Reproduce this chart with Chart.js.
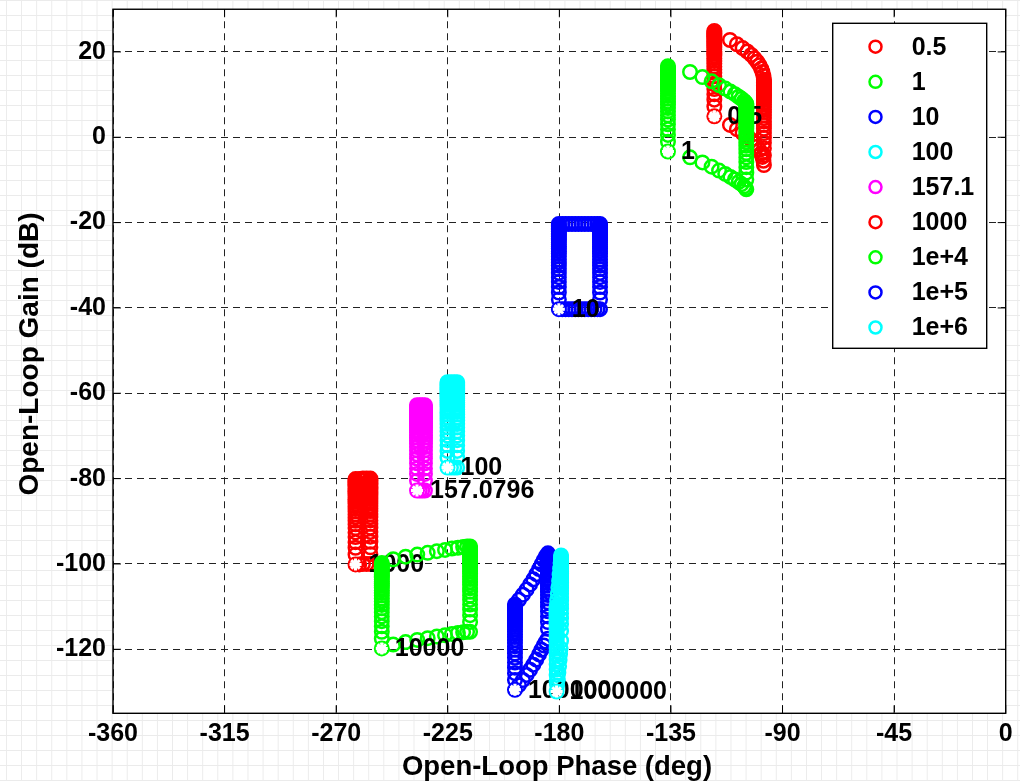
<!DOCTYPE html>
<html>
<head>
<meta charset="utf-8">
<script src="https://cdn.jsdelivr.net/npm/chart.js@4.4.1/dist/chart.umd.min.js"></script>
<style>
  html, body { margin: 0; padding: 0; }
  body {
    width: 1020px; height: 781px; overflow: hidden;
    background-color: #ffffff;
    background-image:
      linear-gradient(to right, #ebebeb 1px, transparent 1px),
      linear-gradient(to bottom, #ebebeb 1px, transparent 1px);
    background-size: 15.1px 15px;
    background-position: 6px 0;
  }
  #c { display: block; }
</style>
</head>
<body>
<canvas id="c" width="1020" height="781"></canvas>
<script>
// Axis ticks
const phaseTicks = [-360, -315, -270, -225, -180, -135, -90, -45, 0];
const gainTicks = [-120, -100, -80, -60, -40, -20, 0, 20];

// Template frequencies (legend text and the label printed at each nominal point)
const freqLegend = ['0.5', '1', '10', '100', '157.1', '1000', '1e+4', '1e+5', '1e+6'];
const freqText = ['0.5', '1', '10', '100', '157.0796', '1000', '10000', '100000', '1000000'];
const seriesColor = ['#ff0000', '#00ff00', '#0000ff', '#00ffff', '#ff00ff', '#ff0000', '#00ff00', '#0000ff', '#00ffff'];

// Nominal plant response at each frequency (deg, dB)
const nominalPhase = [-117.5, -136.2, -180.2, -225.1, -237.4, -262.2, -251.6, -197.9, -181.1];
const nominalGain = [4.9, -3.35, -40.3, -77.4, -82.8, -100.1, -119.8, -129.5, -129.9];

// Template boundaries: [phase, gains] for the two gain sweeps, [phase, gain] pairs for the pole sweeps
const w05Left = [-117.5, [4.9, 7.2, 8.8, 10.1, 11.3, 12.4, 13.4, 14.3, 15.1, 15.9, 16.6, 17.3, 17.9, 18.5, 19.1, 19.6, 20.1, 20.6, 21.1, 21.5, 21.9, 22.3, 22.7, 23.1, 23.5, 23.8, 24.2, 24.5, 24.9]];
const w05Top = [[-111.2, 22.8], [-108.4, 21.8], [-106.1, 20.9], [-104.2, 20.1], [-102.6, 19.3], [-101.3, 18.5], [-100.2, 17.7], [-99.3, 16.9], [-98.6, 16.1], [-98.1, 15.3], [-97.7, 14.4]];
const w05Right = [-97.5, [-6.5, -4.2, -2.6, -1.3, -0.1, 1.0, 2.0, 2.9, 3.7, 4.5, 5.2, 5.9, 6.5, 7.1, 7.7, 8.2, 8.7, 9.2, 9.7, 10.1, 10.5, 10.9, 11.3, 11.7, 12.1, 12.4, 12.8, 13.1, 13.5]];
const w05Bottom = [[-111.2, 2.9], [-108.4, 1.9], [-106.1, 1.0], [-104.2, 0.2], [-102.6, -0.6], [-101.3, -1.4], [-100.2, -2.2], [-99.3, -3.0], [-98.6, -3.8], [-98.1, -4.6], [-97.7, -5.5]];

const w1Left = [-136.2, [-3.35, -1.05, 0.55, 1.85, 3.05, 4.15, 5.15, 6.05, 6.85, 7.65, 8.35, 9.05, 9.65, 10.25, 10.85, 11.35, 11.85, 12.35, 12.85, 13.25, 13.65, 14.05, 14.45, 14.85, 15.25, 15.55, 15.95, 16.25, 16.65]];
const w1Top = [[-127.3, 15.3], [-122.3, 14.1], [-118.6, 13.1], [-115.6, 12.2], [-113.1, 11.4], [-111.0, 10.7], [-109.2, 10.1], [-107.7, 9.5], [-106.5, 9.0], [-105.5, 8.5], [-104.9, 8.1]];
const w1Right = [-104.6, [-12.2, -9.9, -8.3, -7.0, -5.8, -4.7, -3.7, -2.8, -2.0, -1.2, -0.5, 0.2, 0.8, 1.4, 2.0, 2.5, 3.0, 3.5, 4.0, 4.4, 4.8, 5.2, 5.6, 6.0, 6.4, 6.7, 7.1, 7.4, 7.8]];
const w1Bottom = [[-127.3, -4.7], [-122.3, -5.9], [-118.6, -6.9], [-115.6, -7.8], [-113.1, -8.6], [-111.0, -9.3], [-109.2, -9.9], [-107.7, -10.5], [-106.5, -11.0], [-105.5, -11.5], [-104.9, -11.9]];

const w10Left = [-180.2, [-40.3, -38.0, -36.4, -35.1, -33.9, -32.8, -31.8, -30.9, -30.1, -29.3, -28.6, -27.9, -27.3, -26.7, -26.1, -25.6, -25.1, -24.6, -24.1, -23.7, -23.3, -22.9, -22.5, -22.1, -21.7, -21.4, -21.0, -20.7, -20.3]];
const w10Top = [[-178.8, -20.3], [-177.5, -20.3], [-176.2, -20.3], [-174.9, -20.3], [-173.6, -20.3], [-172.3, -20.3], [-171.0, -20.3], [-169.7, -20.3], [-168.4, -20.3], [-167.1, -20.3], [-165.8, -20.3], [-164.6, -20.3]];
const w10Right = [-163.6, [-40.3, -38.0, -36.4, -35.1, -33.9, -32.8, -31.8, -30.9, -30.1, -29.3, -28.6, -27.9, -27.3, -26.7, -26.1, -25.6, -25.1, -24.6, -24.1, -23.7, -23.3, -22.9, -22.5, -22.1, -21.7, -21.4, -21.0, -20.7, -20.3]];
const w10Bottom = [[-178.8, -40.3], [-177.5, -40.3], [-176.2, -40.3], [-174.9, -40.3], [-173.6, -40.3], [-172.3, -40.3], [-171.0, -40.3], [-169.7, -40.3], [-168.4, -40.3], [-167.1, -40.3], [-165.8, -40.3], [-164.6, -40.3]];

const w100Left = [-225.1, [-77.4, -75.1, -73.5, -72.2, -71.0, -69.9, -68.9, -68.0, -67.2, -66.4, -65.7, -65.0, -64.4, -63.8, -63.2, -62.7, -62.2, -61.7, -61.2, -60.8, -60.4, -60.0, -59.6, -59.2, -58.8, -58.5, -58.1, -57.8, -57.4]];
const w100Top = [[-223.7, -57.4], [-222.4, -57.4]];
const w100Right = [-221.2, [-77.4, -75.1, -73.5, -72.2, -71.0, -69.9, -68.9, -68.0, -67.2, -66.4, -65.7, -65.0, -64.4, -63.8, -63.2, -62.7, -62.2, -61.7, -61.2, -60.8, -60.4, -60.0, -59.6, -59.2, -58.8, -58.5, -58.1, -57.8, -57.4]];
const w100Bottom = [[-223.7, -77.4], [-222.4, -77.4]];

const w157Left = [-237.4, [-82.8, -80.5, -78.9, -77.6, -76.4, -75.3, -74.3, -73.4, -72.6, -71.8, -71.1, -70.4, -69.8, -69.2, -68.6, -68.1, -67.6, -67.1, -66.6, -66.2, -65.8, -65.4, -65.0, -64.6, -64.2, -63.9, -63.5, -63.2, -62.8]];
const w157Top = [[-236.3, -62.8], [-235.3, -62.8]];
const w157Right = [-234.2, [-82.8, -80.5, -78.9, -77.6, -76.4, -75.3, -74.3, -73.4, -72.6, -71.8, -71.1, -70.4, -69.8, -69.2, -68.6, -68.1, -67.6, -67.1, -66.6, -66.2, -65.8, -65.4, -65.0, -64.6, -64.2, -63.9, -63.5, -63.2, -62.8]];
const w157Bottom = [[-236.3, -82.8], [-235.3, -82.8]];

const w1000Left = [-262.2, [-100.1, -97.8, -96.2, -94.9, -93.7, -92.6, -91.6, -90.7, -89.9, -89.1, -88.4, -87.7, -87.1, -86.5, -85.9, -85.4, -84.9, -84.4, -83.9, -83.5, -83.1, -82.7, -82.3, -81.9, -81.5, -81.2, -80.8, -80.5, -80.1]];
const w1000Top = [[-260.7, -80.1], [-259.2, -80.0], [-257.7, -80.0]];
const w1000Right = [-256.2, [-100.0, -97.7, -96.1, -94.8, -93.6, -92.5, -91.5, -90.6, -89.8, -89.0, -88.3, -87.6, -87.0, -86.4, -85.8, -85.3, -84.8, -84.3, -83.8, -83.4, -83.0, -82.6, -82.2, -81.8, -81.4, -81.1, -80.7, -80.4, -80.0]];
const w1000Bottom = [[-260.7, -100.1], [-259.2, -100.0], [-257.7, -100.0]];

const w1e4Left = [-251.6, [-119.8, -117.5, -115.9, -114.6, -113.4, -112.3, -111.3, -110.4, -109.6, -108.8, -108.1, -107.4, -106.8, -106.2, -105.6, -105.1, -104.6, -104.1, -103.6, -103.2, -102.8, -102.4, -102.0, -101.6, -101.2, -100.9, -100.5, -100.2, -99.8]];
const w1e4Top = [[-247.0, -98.9], [-242.0, -98.3], [-237.3, -97.8], [-233.1, -97.4], [-229.4, -97.0], [-226.1, -96.7], [-223.3, -96.4], [-220.9, -96.2], [-218.8, -96.0], [-217.2, -95.9]];
const w1e4Right = [-216.0, [-115.9, -113.6, -112.0, -110.7, -109.5, -108.4, -107.4, -106.5, -105.7, -104.9, -104.2, -103.5, -102.9, -102.3, -101.7, -101.2, -100.7, -100.2, -99.7, -99.3, -98.9, -98.5, -98.1, -97.7, -97.3, -97.0, -96.6, -96.3, -95.9]];
const w1e4Bottom = [[-247.0, -118.9], [-242.0, -118.3], [-237.3, -117.8], [-233.1, -117.4], [-229.4, -117.0], [-226.1, -116.7], [-223.3, -116.4], [-220.9, -116.2], [-218.8, -116.0], [-217.2, -115.9]];

const w1e5Left = [-197.9, [-129.5, -127.2, -125.6, -124.3, -123.1, -122.0, -121.0, -120.1, -119.3, -118.5, -117.8, -117.1, -116.5, -115.9, -115.3, -114.8, -114.3, -113.8, -113.3, -112.9, -112.5, -112.1, -111.7, -111.3, -110.9, -110.6, -110.2, -109.9, -109.5]];
const w1e5Top = [[-196.3, -108.4], [-194.7, -107.2], [-193.2, -106.0], [-191.8, -104.8], [-190.5, -103.6], [-189.3, -102.4], [-188.2, -101.2], [-187.2, -100.1], [-186.3, -99.1], [-185.4, -98.2]];
const w1e5Right = [-184.6, [-117.5, -115.2, -113.6, -112.3, -111.1, -110.0, -109.0, -108.1, -107.3, -106.5, -105.8, -105.1, -104.5, -103.9, -103.3, -102.8, -102.3, -101.8, -101.3, -100.9, -100.5, -100.1, -99.7, -99.3, -98.9, -98.6, -98.2, -97.9, -97.5]];
const w1e5Bottom = [[-196.3, -128.4], [-194.7, -127.2], [-193.2, -126.0], [-191.8, -124.8], [-190.5, -123.6], [-189.3, -122.4], [-188.2, -121.2], [-187.2, -120.1], [-186.3, -119.1], [-185.4, -118.2]];

const w1e6Left = [-181.1, [-129.9, -127.6, -126.0, -124.7, -123.5, -122.4, -121.4, -120.5, -119.7, -118.9, -118.2, -117.5, -116.9, -116.3, -115.7, -115.2, -114.7, -114.2, -113.7, -113.3, -112.9, -112.5, -112.1, -111.7, -111.3, -111.0, -110.6, -110.3, -109.9]];
const w1e6Top = [[-180.9, -108.5], [-180.6, -107.0], [-180.4, -105.5], [-180.1, -104.0], [-179.9, -102.5], [-179.7, -101.1], [-179.5, -99.8]];
const w1e6Right = [-179.3, [-118.0, -115.7, -114.1, -112.8, -111.6, -110.5, -109.5, -108.6, -107.8, -107.0, -106.3, -105.6, -105.0, -104.4, -103.8, -103.3, -102.8, -102.3, -101.8, -101.4, -101.0, -100.6, -100.2, -99.8, -99.4, -99.1, -98.7, -98.4, -98.0]];
const w1e6Bottom = [[-180.9, -128.5], [-180.6, -127.0], [-180.4, -125.5], [-180.1, -124.0], [-179.9, -122.5], [-179.7, -121.1], [-179.5, -119.8]];

const templates = [
  [w05Left, w05Top, w05Right, w05Bottom],
  [w1Left, w1Top, w1Right, w1Bottom],
  [w10Left, w10Top, w10Right, w10Bottom],
  [w100Left, w100Top, w100Right, w100Bottom],
  [w157Left, w157Top, w157Right, w157Bottom],
  [w1000Left, w1000Top, w1000Right, w1000Bottom],
  [w1e4Left, w1e4Top, w1e4Right, w1e4Bottom],
  [w1e5Left, w1e5Top, w1e5Right, w1e5Bottom],
  [w1e6Left, w1e6Top, w1e6Right, w1e6Bottom]
];

const sweepPoints = ([phase, gains]) => gains.map(g => ({ x: phase, y: g }));
const pairPoints = pairs => pairs.map(([p, g]) => ({ x: p, y: g }));

const FONT = '"Liberation Sans", Arial, sans-serif';

// Each template is plotted, then its nominal point and its label; later ones paint over earlier ones.
const datasets = [];
templates.forEach((t, i) => {
  const seq = datasets.length;
  datasets.push({
    label: freqLegend[i],
    data: [...sweepPoints(t[0]), ...pairPoints(t[1]), ...sweepPoints(t[2]), ...pairPoints(t[3])],
    pointStyle: 'circle',
    pointRadius: 6.75,
    pointBorderWidth: 2.5,
    pointBorderColor: seriesColor[i],
    pointBackgroundColor: 'rgba(0,0,0,0)',
    showLine: false,
    order: 100 - seq
  });
  datasets.push({
    label: 'nominal ' + freqLegend[i],
    data: [{ x: nominalPhase[i], y: nominalGain[i] }],
    pointStyle: 'star',
    pointRadius: 6,
    pointBorderWidth: 3,
    pointBorderColor: '#ffffff',
    pointBackgroundColor: '#ffffff',
    showLine: false,
    order: 99 - seq,
    nominalIndex: i
  });
});

const nicholsDecor = {
  id: 'nicholsDecor',
  beforeDraw(chart) {
    const { ctx, chartArea: a } = chart;
    ctx.save();
    ctx.fillStyle = '#ffffff';
    ctx.fillRect(a.left, a.top, a.right - a.left, a.bottom - a.top);
    ctx.restore();
  },
  afterDatasetDraw(chart, args) {
    const ds = chart.data.datasets[args.index];
    if (ds.nominalIndex === undefined) return;
    const i = ds.nominalIndex;
    const ctx = chart.ctx;
    const x = chart.scales.x.getPixelForValue(nominalPhase[i]);
    const y = chart.scales.y.getPixelForValue(nominalGain[i]);
    ctx.save();
    ctx.font = 'bold 25px ' + FONT;
    ctx.fillStyle = '#000000';
    ctx.textAlign = 'left';
    ctx.textBaseline = 'middle';
    ctx.fillText(freqText[i], x + 13, y + 1);
    ctx.restore();
  },
  afterDraw(chart) {
    const { ctx, chartArea: a, scales } = chart;
    ctx.save();
    // axes box
    ctx.strokeStyle = '#000000';
    ctx.lineWidth = 1.4;
    ctx.strokeRect(a.left, a.top, a.right - a.left, a.bottom - a.top);
    // inward tick marks on all four sides
    const tl = 8;
    ctx.lineWidth = 1;
    ctx.beginPath();
    phaseTicks.forEach(v => {
      const x = scales.x.getPixelForValue(v);
      ctx.moveTo(x, a.bottom); ctx.lineTo(x, a.bottom - tl);
      ctx.moveTo(x, a.top); ctx.lineTo(x, a.top + tl);
    });
    gainTicks.forEach(v => {
      const y = scales.y.getPixelForValue(v);
      ctx.moveTo(a.left, y); ctx.lineTo(a.left + tl, y);
      ctx.moveTo(a.right, y); ctx.lineTo(a.right - tl, y);
    });
    ctx.stroke();

    // axis titles
    ctx.fillStyle = '#000000';
    ctx.textAlign = 'center';
    ctx.textBaseline = 'middle';
    ctx.font = 'bold 27.5px ' + FONT;
    ctx.fillText('Open-Loop Phase (deg)', 557, 767);
    ctx.save();
    ctx.font = 'bold 28px ' + FONT;
    ctx.translate(30, 354);
    ctx.rotate(-Math.PI / 2);
    ctx.fillText('Open-Loop Gain (dB)', 0, 0);
    ctx.restore();

    // legend
    const lx = 832.7, ly = 23.3, lw = 154, lh = 325;
    ctx.fillStyle = '#ffffff';
    ctx.fillRect(lx, ly, lw, lh);
    ctx.strokeStyle = '#000000';
    ctx.lineWidth = 1.4;
    ctx.strokeRect(lx, ly, lw, lh);
    ctx.font = 'bold 25px ' + FONT;
    ctx.textAlign = 'left';
    freqLegend.forEach((txt, i) => {
      const cy = 46.7 + 35.1 * i;
      ctx.beginPath();
      ctx.strokeStyle = seriesColor[i];
      ctx.lineWidth = 2.5;
      ctx.arc(875.5, cy, 6, 0, Math.PI * 2);
      ctx.stroke();
      ctx.fillStyle = '#000000';
      ctx.fillText(txt, 911.7, cy + 1);
    });
    ctx.restore();
  }
};

const tickFont = { family: FONT, weight: 'bold', size: 25 };

new Chart(document.getElementById('c'), {
  type: 'scatter',
  data: { datasets },
  options: {
    responsive: false,
    animation: false,
    events: [],
    layout: { padding: { left: 0, right: 14.3, top: 7.3, bottom: 0 } },
    plugins: { legend: { display: false }, tooltip: { enabled: false } },
    scales: {
      x: {
        type: 'linear',
        min: -360, max: 0,
        afterBuildTicks: s => { s.ticks = phaseTicks.map(v => ({ value: v })); },
        afterFit: s => { s.height = 781 - 713.3; s.paddingLeft = 0; s.paddingRight = 0; },
        grid: { color: '#222222', lineWidth: 1, drawTicks: false },
        border: { display: false, dash: [7, 5] },
        ticks: { font: tickFont, color: '#000000', padding: 6, maxRotation: 0, autoSkip: false }
      },
      y: {
        type: 'linear',
        min: -135, max: 30,
        afterBuildTicks: s => { s.ticks = gainTicks.map(v => ({ value: v })); },
        afterFit: s => { s.width = 113; s.paddingTop = 0; s.paddingBottom = 0; },
        grid: { color: '#222222', lineWidth: 1, drawTicks: false },
        border: { display: false, dash: [7, 5] },
        ticks: { font: tickFont, color: '#000000', padding: 7, autoSkip: false }
      }
    }
  },
  plugins: [nicholsDecor]
});
</script>
</body>
</html>
